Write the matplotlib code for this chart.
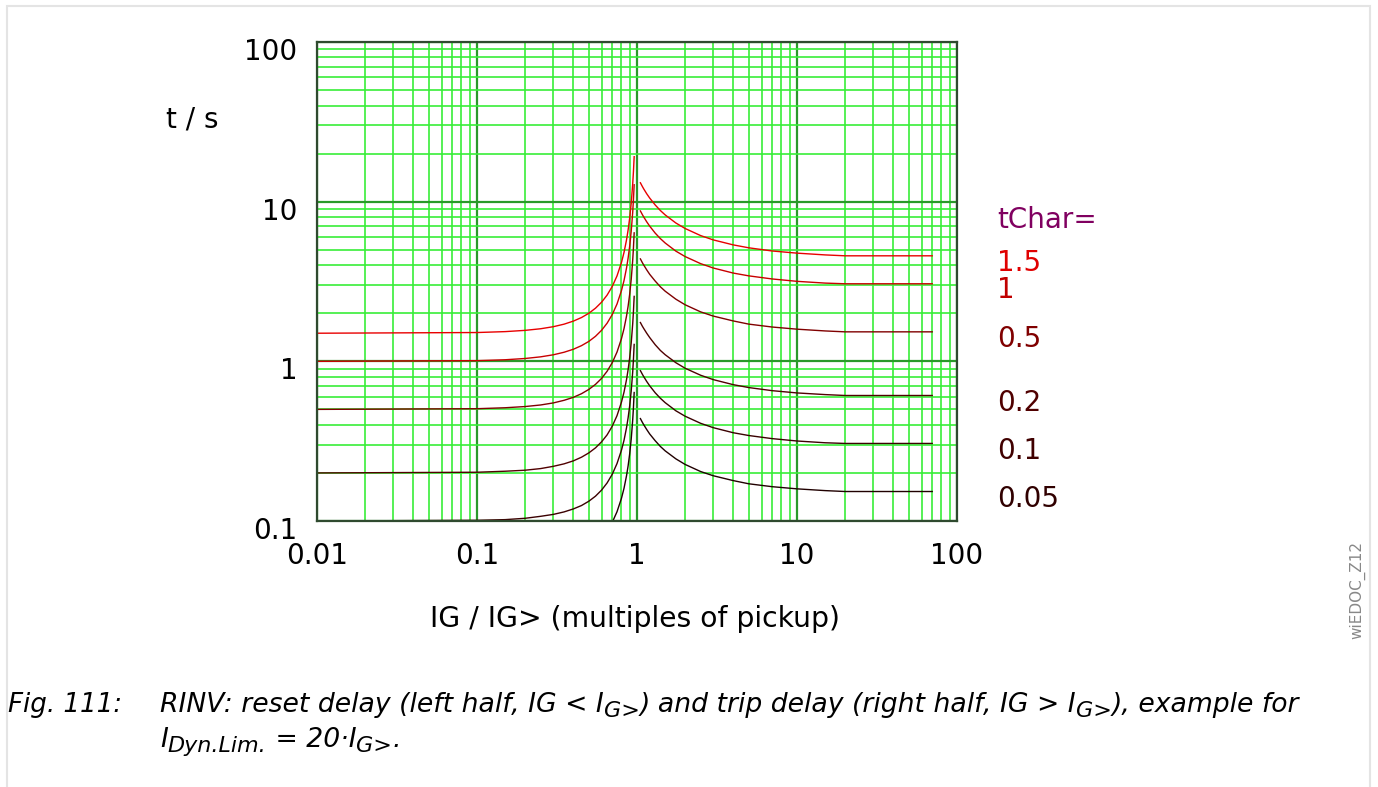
import matplotlib
matplotlib.use('Agg')
import matplotlib.pyplot as plt
import matplotlib.transforms as mtransforms
from matplotlib.patches import Rectangle

plt.rcParams['font.family'] = 'DejaVu Sans'

# reset side (IG < IG>)
x_reset = [0.01, 0.1, 0.15, 0.2, 0.25, 0.3, 0.35, 0.4, 0.45, 0.5, 0.55, 0.6,
           0.65, 0.7, 0.75, 0.8, 0.83, 0.86, 0.88, 0.9, 0.92, 0.94, 0.95, 0.96]
t_reset_150 = [1.50, 1.515, 1.535, 1.563, 1.600, 1.648, 1.709, 1.786, 1.881, 2.000, 2.151, 2.344,
               2.597, 2.941, 3.429, 4.167, 4.822, 5.760, 6.649, 7.895, 9.766, 12.89, 15.38, 19.13]
t_reset_100 = [1.00, 1.010, 1.023, 1.042, 1.067, 1.099, 1.140, 1.190, 1.254, 1.333, 1.434, 1.563,
               1.732, 1.961, 2.286, 2.778, 3.214, 3.840, 4.433, 5.263, 6.510, 8.591, 10.26, 12.76]
t_reset_050 = [0.500, 0.505, 0.512, 0.521, 0.533, 0.549, 0.570, 0.595, 0.627, 0.667, 0.717, 0.781,
               0.866, 0.980, 1.143, 1.389, 1.607, 1.920, 2.216, 2.632, 3.255, 4.296, 5.128, 6.378]
t_reset_020 = [0.200, 0.202, 0.205, 0.208, 0.213, 0.220, 0.228, 0.238, 0.251, 0.267, 0.287, 0.313,
               0.346, 0.392, 0.457, 0.556, 0.643, 0.768, 0.887, 1.053, 1.302, 1.718, 2.051, 2.551]
t_reset_010 = [0.100, 0.101, 0.102, 0.104, 0.107, 0.110, 0.114, 0.119, 0.125, 0.133, 0.143, 0.156,
               0.173, 0.196, 0.229, 0.278, 0.321, 0.384, 0.443, 0.526, 0.651, 0.859, 1.026, 1.276]
t_reset_005 = [0.050, 0.0505, 0.0512, 0.0521, 0.0533, 0.0549, 0.0570, 0.0595, 0.0627, 0.0667, 0.0717, 0.0781,
               0.0866, 0.0980, 0.1143, 0.1389, 0.1607, 0.1920, 0.2216, 0.2632, 0.3255, 0.4296, 0.5128, 0.6378]

# trip side (IG > IG>), flat from IDyn.Lim. = 20
x_trip = [1.05, 1.08, 1.1, 1.15, 1.2, 1.3, 1.4, 1.5, 1.75, 2, 2.5, 3, 4, 5, 7, 10, 15, 20, 70]
t_trip_150 = [13.13, 12.45, 12.05, 11.21, 10.54, 9.53, 8.80, 8.26, 7.35, 6.79, 6.13, 5.76, 5.36, 5.14, 4.91, 4.76, 4.64, 4.58, 4.58]
t_trip_100 = [8.75, 8.30, 8.04, 7.48, 7.03, 6.35, 5.87, 5.51, 4.90, 4.53, 4.09, 3.84, 3.57, 3.43, 3.28, 3.17, 3.09, 3.06, 3.06]
t_trip_050 = [4.38, 4.15, 4.02, 3.74, 3.51, 3.18, 2.93, 2.75, 2.45, 2.26, 2.04, 1.92, 1.79, 1.71, 1.64, 1.59, 1.55, 1.53, 1.53]
t_trip_020 = [1.75, 1.66, 1.61, 1.50, 1.41, 1.27, 1.17, 1.10, 0.980, 0.905, 0.818, 0.768, 0.714, 0.685, 0.655, 0.634, 0.619, 0.611, 0.611]
t_trip_010 = [0.875, 0.830, 0.804, 0.748, 0.703, 0.635, 0.587, 0.551, 0.490, 0.453, 0.409, 0.384, 0.357, 0.343, 0.328, 0.317, 0.309, 0.306, 0.306]
t_trip_005 = [0.438, 0.415, 0.402, 0.374, 0.351, 0.318, 0.293, 0.275, 0.245, 0.226, 0.204, 0.192, 0.179, 0.171, 0.164, 0.159, 0.155, 0.153, 0.153]

tchar_labels = ['1.5', '1', '0.5', '0.2', '0.1', '0.05']
curve_colors = ['#e80000', '#c80000', '#800000', '#500000', '#3a0000', '#200000']
label_colors = ['#e00000', '#c00000', '#800000', '#500000', '#400000', '#300000']
label_y_px = [263, 290, 339, 403, 451, 499]

x_ticks = [0.01, 0.1, 1, 10, 100]
x_ticklabels = ['0.01', '0.1', '1', '10', '100']
y_ticks = [0.1, 1, 10, 100]
y_ticklabels = ['0.1', '1', '10', '100']

# caption pieces: (text, subscript?)
caption1 = [('RINV: reset delay (left half, IG < I', False), ('G>', True),
            (') and trip delay (right half, IG > I', False), ('G>', True),
            ('), example for', False)]
caption2 = [('I', False), ('Dyn.Lim.', True), (' = 20·I', False), ('G>', True), ('.', False)]

W, H = 1378, 787
fig = plt.figure(figsize=(W / 100, H / 100), dpi=100)

def fx(px):
    return px / W

def fy(py):
    return 1 - py / H

ax = fig.add_axes([fx(317), fy(521), fx(957) - fx(317), fy(42) - fy(521)])
ax.set_xscale('log')
ax.set_yscale('log')
ax.set_xlim(0.01, 100)
ax.set_ylim(0.1, 100)

ax.grid(True, which='minor', color='#38ee38', linewidth=1.2)
ax.grid(True, which='major', color='#2a992a', linewidth=1.6)
ax.set_axisbelow(True)
for s in ax.spines.values():
    s.set_color('#2f4a2f')
    s.set_linewidth(1.6)

resets = [t_reset_150, t_reset_100, t_reset_050, t_reset_020, t_reset_010, t_reset_005]
trips = [t_trip_150, t_trip_100, t_trip_050, t_trip_020, t_trip_010, t_trip_005]
for r, t, c in zip(resets, trips, curve_colors):
    ax.plot(x_reset, r, color=c, linewidth=1.0)
    ax.plot(x_trip, t, color=c, linewidth=1.0)

ax.set_xticks(x_ticks)
ax.set_xticklabels(x_ticklabels, fontsize=20)
ax.set_yticks(y_ticks)
ax.set_yticklabels(y_ticklabels, fontsize=20)
ax.tick_params(which='both', length=0)
ax.tick_params(axis='y', pad=14)
ax.tick_params(axis='x', pad=15)
off = mtransforms.ScaledTranslation(0, -7 / 100, fig.dpi_scale_trans)
for lab in ax.get_yticklabels():
    lab.set_transform(lab.get_transform() + off)

fig.text(fx(192), fy(120), 't / s', fontsize=20, ha='center', va='center')
fig.text(fx(635), fy(619), 'IG / IG> (multiples of pickup)', fontsize=20.3, ha='center', va='center')

fig.text(fx(997), fy(220), 'tChar=', fontsize=20, color='#800060', ha='left', va='center')
for lab, c, py in zip(tchar_labels, label_colors, label_y_px):
    fig.text(fx(997), fy(py), lab, fontsize=20, color=c, ha='left', va='center')

# caption, built piece by piece so subscripts sit like in the document
renderer = fig.canvas.get_renderer()

def caption_line(pieces, x0, base):
    x = x0
    for txt, sub in pieces:
        size = 16 if sub else 19.2
        y = base + 5 if sub else base
        t = fig.text(fx(x), fy(y), txt, fontsize=size, style='italic', ha='left', va='baseline')
        x += t.get_window_extent(renderer).width

fig.text(fx(8), fy(712), 'Fig. 111:', fontsize=18.8, style='italic', ha='left', va='baseline')
caption_line(caption1, 160, 712)
caption_line(caption2, 160, 747)

fig.text(fx(1357), fy(590), 'wiEDOC_Z12', fontsize=11, color='#888888', rotation=90, ha='center', va='center')

fig.patches.append(Rectangle((fx(7), fy(800)), fx(1370) - fx(7), fy(6) - fy(800),
                             transform=fig.transFigure, fill=False, edgecolor='#e4e4e4', linewidth=1.5))

fig.savefig('out.png', dpi=100)
